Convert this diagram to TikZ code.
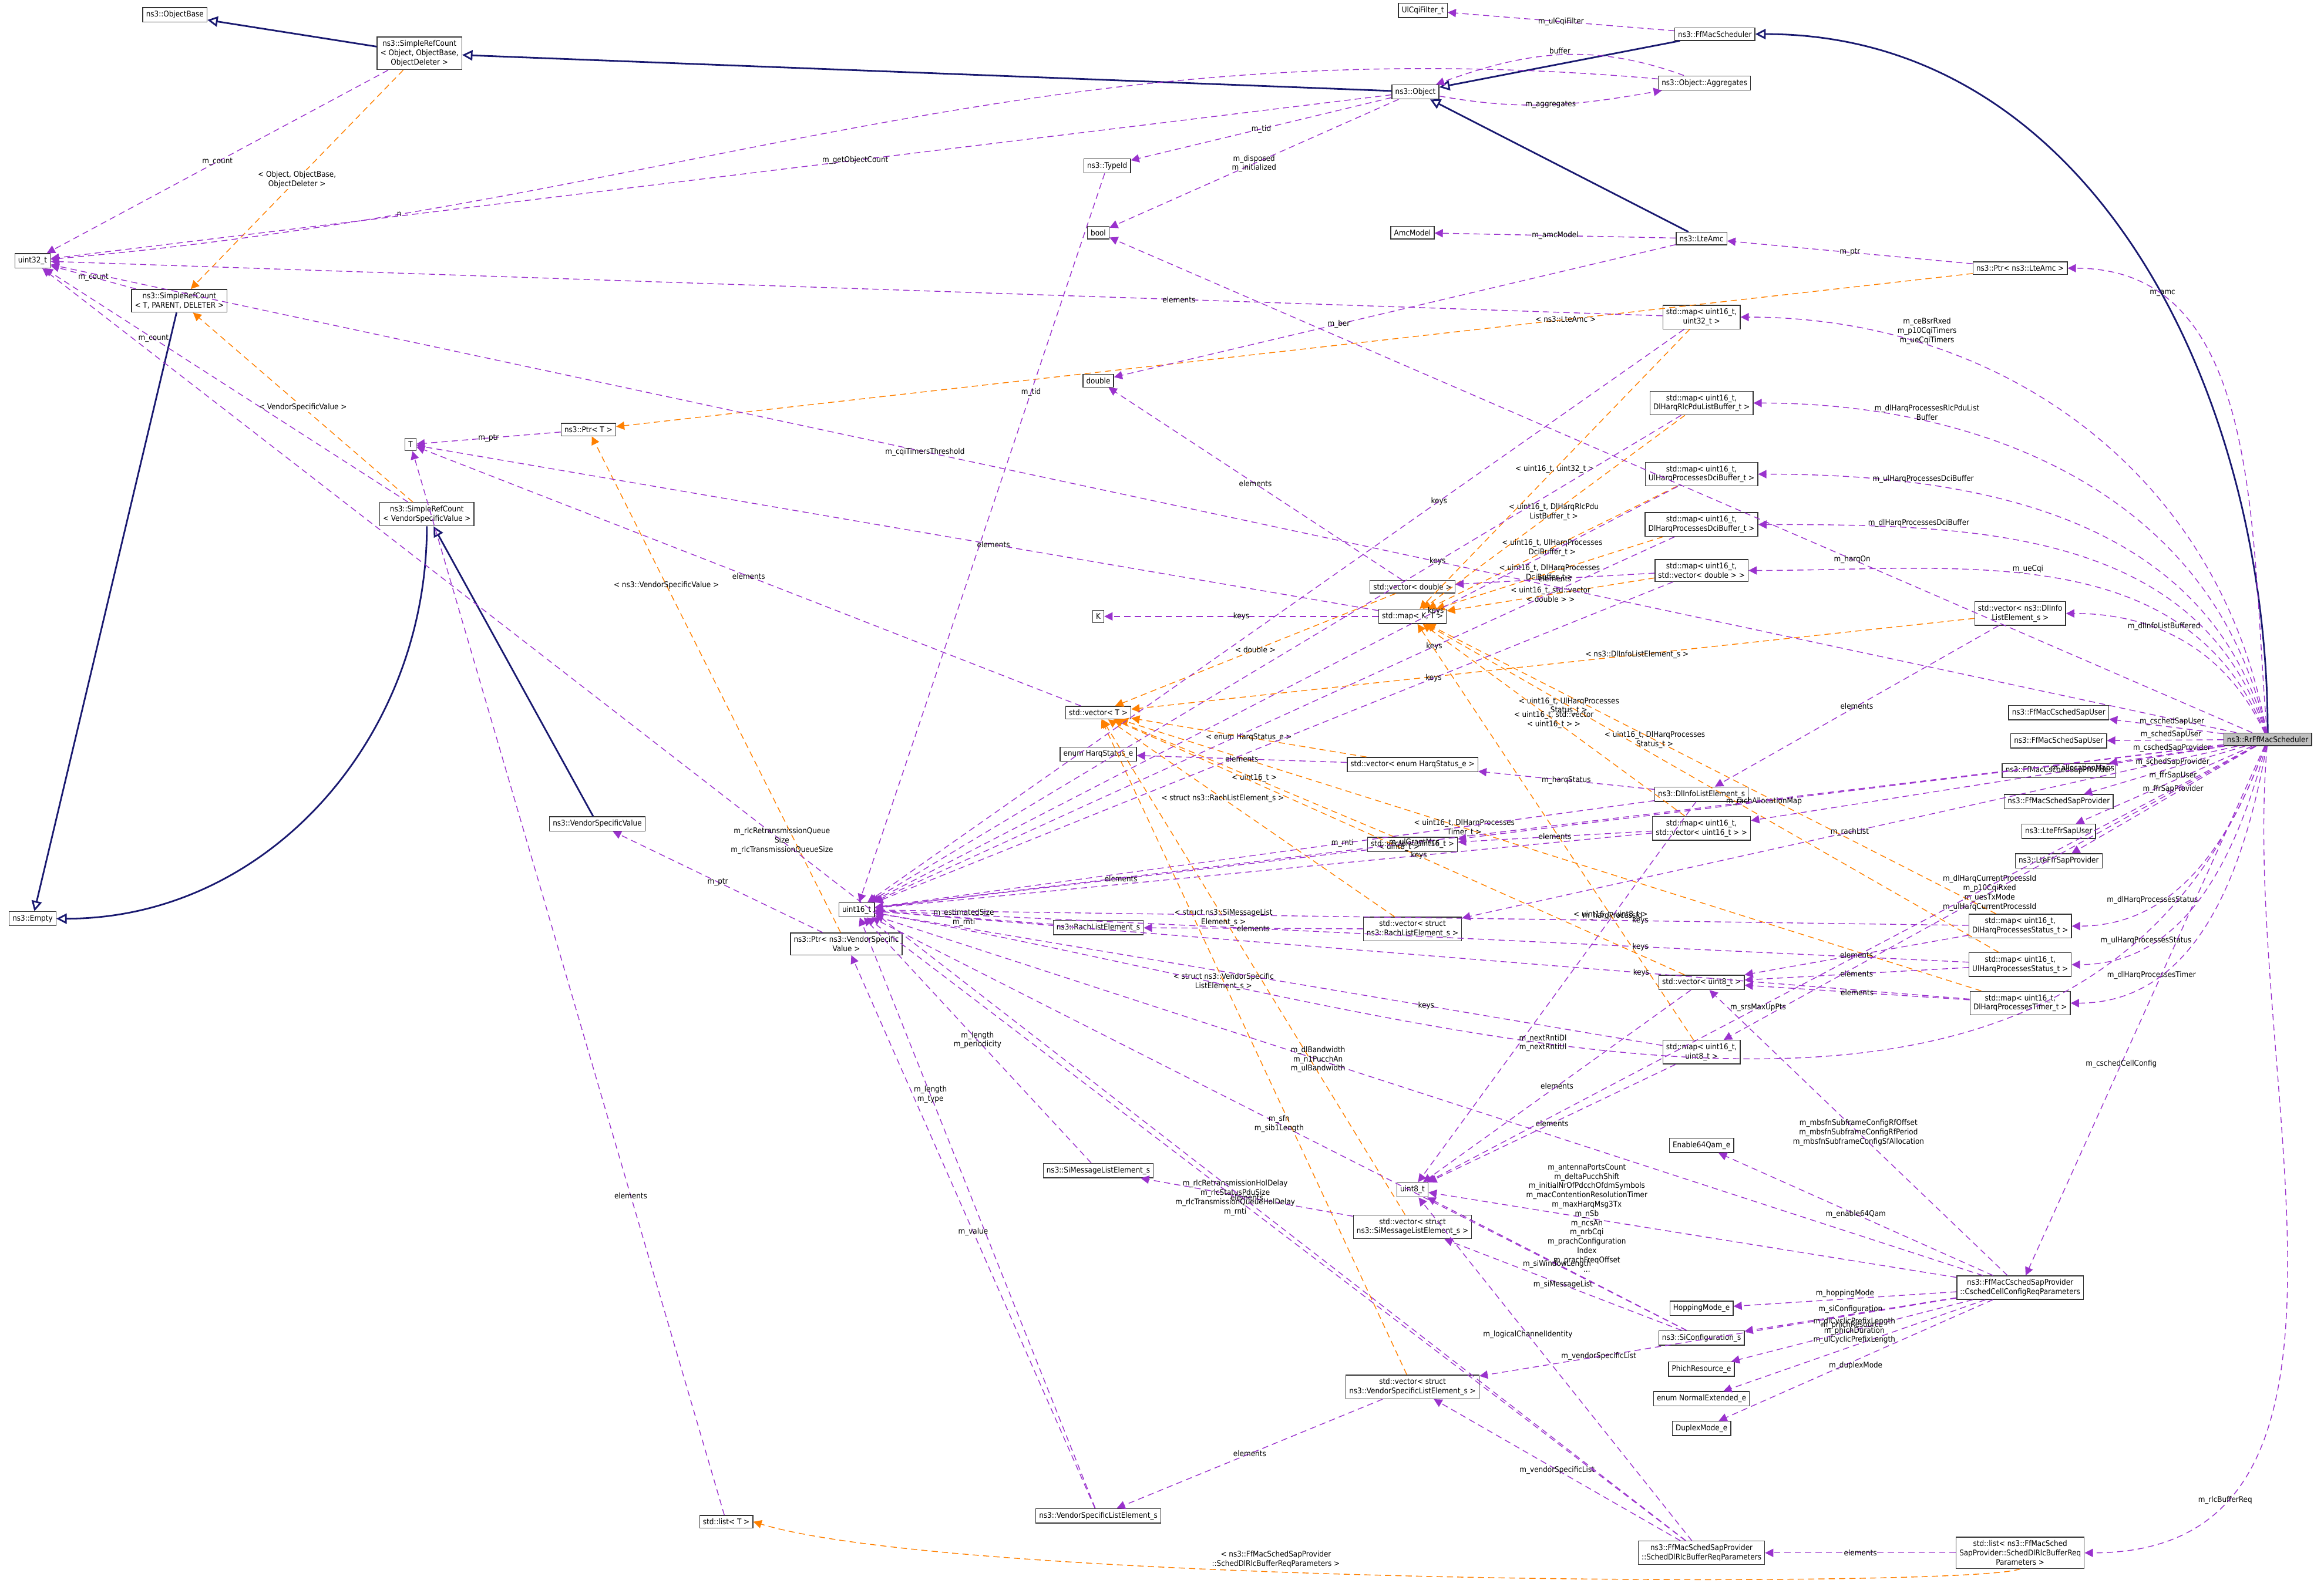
\documentclass[tikz,border=0pt]{standalone}
\usepackage{fontspec}
\setmainfont{DejaVu Sans Condensed}
\usetikzlibrary{arrows.meta}
\definecolor{doxpurple}{HTML}{9A32CD}
\definecolor{doxblue}{HTML}{191970}
\tikzset{
  cls/.style={draw=black!80,fill=white,inner sep=1.6pt,font=\fontsize{3.8}{4.5}\selectfont,align=center},
  lbl/.style={font=\fontsize{3.8}{4.5}\selectfont,align=center,inner sep=0.5pt,fill=none},
  inh/.style={draw=doxblue,thick,-{Triangle[open,length=5pt,width=5pt]}},
  use/.style={draw=doxpurple,densely dashed,-{Triangle[length=4pt,width=4pt]}},
  tpl/.style={draw=orange,densely dashed,-{Triangle[length=4pt,width=4pt]}},
}
\begin{document}
\begin{tikzpicture}[x=0.02524cm,y=-0.02524cm]
\useasboundingbox (0,0) rectangle (1568,1073);
% left column
\node[cls] (obase) at (118,10) {ns3::ObjectBase};
\node[cls] (srcObj) at (283,36) {ns3::SimpleRefCount\\ {\textless} Object, ObjectBase,\\ ObjectDeleter {\textgreater}};
\node[cls] (u32) at (22,176) {uint32\_t};
\node[cls] (srcTpd) at (121,203) {ns3::SimpleRefCount\\ {\textless} T, PARENT, DELETER {\textgreater}};
\node[cls] (tT) at (277,300) {T};
\node[cls] (ptrT) at (397,290) {ns3::Ptr{\textless} T {\textgreater}};
\node[cls] (srcVsv) at (288,347) {ns3::SimpleRefCount\\ {\textless} VendorSpecificValue {\textgreater}};
\node[cls] (empty) at (22,620) {ns3::Empty};
\node[cls] (vsv) at (403,556) {ns3::VendorSpecificValue};
\node[cls] (ptrVsv) at (571,637) {ns3::Ptr{\textless} ns3::VendorSpecific\\ Value {\textgreater}};
\node[cls] (u16) at (578,614) {uint16\_t};
\node[cls] (listT) at (490,1027) {std::list{\textless} T {\textgreater}};
% middle column
\node[cls] (ulcqi) at (960,7) {UlCqiFilter\_t};
\node[cls] (obj) at (955,62) {ns3::Object};
\node[cls] (typeid) at (747,112) {ns3::TypeId};
\node[cls] (bool) at (741,157) {bool};
\node[cls] (amcmodel) at (953,157) {AmcModel};
\node[cls] (dbl) at (741,257) {double};
\node[cls] (vecD) at (953,396) {std::vector{\textless} double {\textgreater}};
\node[cls] (kK) at (741,416) {K};
\node[cls] (mapKT) at (953,416) {std::map{\textless} K, T {\textgreater}};
\node[cls] (vecT) at (741,481) {std::vector{\textless} T {\textgreater}};
\node[cls] (harq) at (741,509) {enum HarqStatus\_e};
\node[cls] (vecHarq) at (953,516) {std::vector{\textless} enum HarqStatus\_e {\textgreater}};
\node[cls] (vecU16) at (953,570) {std::vector{\textless} uint16\_t {\textgreater}};
\node[cls] (rach) at (741,626) {ns3::RachListElement\_s};
\node[cls] (vecRach) at (953,627) {std::vector{\textless} struct\\ ns3::RachListElement\_s {\textgreater}};
\node[cls] (siMsg) at (741,790) {ns3::SiMessageListElement\_s};
\node[cls] (u8) at (953,803) {uint8\_t};
\node[cls] (vecSi) at (953,828) {std::vector{\textless} struct\\ ns3::SiMessageListElement\_s {\textgreater}};
\node[cls] (vecVs) at (953,936) {std::vector{\textless} struct\\ ns3::VendorSpecificListElement\_s {\textgreater}};
\node[cls] (vsle) at (741,1023) {ns3::VendorSpecificListElement\_s};
% right-middle column
\node[cls] (ffsched) at (1157,23) {ns3::FfMacScheduler};
\node[cls] (aggr) at (1150,56) {ns3::Object::Aggregates};
\node[cls] (amc) at (1148,161) {ns3::LteAmc};
\node[cls] (mapU32) at (1148,214) {std::map{\textless} uint16\_t,\\ uint32\_t {\textgreater}};
\node[cls] (mapRlc) at (1148,272) {std::map{\textless} uint16\_t,\\ DlHarqRlcPduListBuffer\_t {\textgreater}};
\node[cls] (mapUlDci) at (1148,320) {std::map{\textless} uint16\_t,\\ UlHarqProcessesDciBuffer\_t {\textgreater}};
\node[cls] (mapDlDci) at (1148,354) {std::map{\textless} uint16\_t,\\ DlHarqProcessesDciBuffer\_t {\textgreater}};
\node[cls] (mapVecD) at (1148,385) {std::map{\textless} uint16\_t,\\ std::vector{\textless} double {\textgreater} {\textgreater}};
\node[cls] (dlInfo) at (1148,536) {ns3::DlInfoListElement\_s};
\node[cls] (mapVecU16) at (1148,559) {std::map{\textless} uint16\_t,\\ std::vector{\textless} uint16\_t {\textgreater} {\textgreater}};
\node[cls] (vecU8) at (1148,663) {std::vector{\textless} uint8\_t {\textgreater}};
\node[cls] (mapU8) at (1148,710) {std::map{\textless} uint16\_t,\\ uint8\_t {\textgreater}};
\node[cls] (qam) at (1148,773) {Enable64Qam\_e};
\node[cls] (hopping) at (1148,883) {HoppingMode\_e};
\node[cls] (siConf) at (1148,903) {ns3::SiConfiguration\_s};
\node[cls] (phich) at (1148,924) {PhichResource\_e};
\node[cls] (normExt) at (1148,944) {enum NormalExtended\_e};
\node[cls] (duplex) at (1148,964) {DuplexMode\_e};
\node[cls] (rlcReq) at (1148,1048) {ns3::FfMacSchedSapProvider\\ ::SchedDlRlcBufferReqParameters};
% right column
\node[cls] (ptrAmc) at (1363,181) {ns3::Ptr{\textless} ns3::LteAmc {\textgreater}};
\node[cls] (vecDlInfo) at (1363,414) {std::vector{\textless} ns3::DlInfo\\ ListElement\_s {\textgreater}};
\node[cls] (cschedUser) at (1389,481) {ns3::FfMacCschedSapUser};
\node[cls] (schedUser) at (1389,500) {ns3::FfMacSchedSapUser};
\node[cls] (cschedProv) at (1389,520) {ns3::FfMacCschedSapProvider};
\node[cls] (schedProv) at (1389,541) {ns3::FfMacSchedSapProvider};
\node[cls] (ffrUser) at (1389,561) {ns3::LteFfrSapUser};
\node[cls] (ffrProv) at (1389,581) {ns3::LteFfrSapProvider};
\node[cls] (mapDlStat) at (1363,625) {std::map{\textless} uint16\_t,\\ DlHarqProcessesStatus\_t {\textgreater}};
\node[cls] (mapUlStat) at (1363,651) {std::map{\textless} uint16\_t,\\ UlHarqProcessesStatus\_t {\textgreater}};
\node[cls] (mapTimer) at (1363,677) {std::map{\textless} uint16\_t,\\ DlHarqProcessesTimer\_t {\textgreater}};
\node[cls] (cellCfg) at (1363,869) {ns3::FfMacCschedSapProvider\\ ::CschedCellConfigReqParameters};
\node[cls] (listRlc) at (1363,1048) {std::list{\textless} ns3::FfMacSched\\ SapProvider::SchedDlRlcBufferReq\\ Parameters {\textgreater}};
\node[cls,fill=black!25] (rr) at (1530,499) {ns3::RrFfMacScheduler};

% inheritance
\draw[inh] (srcObj) -- (obase);
\draw[inh] (obj) -- (srcObj);
\draw[inh] (ffsched) -- (obj);
\draw[inh] (rr) to[out=90,in=0] (ffsched);
\draw[inh] (amc) -- (obj);
\draw[inh] (srcTpd) -- (empty);
\draw[inh] (srcVsv) to[out=-90,in=0] (empty);
\draw[inh] (vsv) -- (srcVsv);

% template instances
\draw[tpl] (srcObj) -- node[lbl,fill=white]{{\textless} Object, ObjectBase,\\ ObjectDeleter {\textgreater}} (srcTpd);
\draw[tpl] (srcVsv) -- node[lbl,fill=white]{{\textless} VendorSpecificValue {\textgreater}} (srcTpd);
\draw[tpl] (ptrAmc) -- node[lbl,pos=0.3]{{\textless} ns3::LteAmc {\textgreater}} (ptrT);
\draw[tpl] (ptrVsv) -- node[lbl,pos=0.7]{{\textless} ns3::VendorSpecificValue {\textgreater}} (ptrT);
\draw[tpl] (mapU32) -- node[lbl]{{\textless} uint16\_t, uint32\_t {\textgreater}} (mapKT);
\draw[tpl] (mapRlc) -- node[lbl]{{\textless} uint16\_t, DlHarqRlcPdu\\ ListBuffer\_t {\textgreater}} (mapKT);
\draw[tpl] (mapUlDci) -- node[lbl]{{\textless} uint16\_t, UlHarqProcesses\\ DciBuffer\_t {\textgreater}} (mapKT);
\draw[tpl] (mapDlDci) -- node[lbl]{{\textless} uint16\_t, DlHarqProcesses\\ DciBuffer\_t {\textgreater}} (mapKT);
\draw[tpl] (mapVecD) -- node[lbl]{{\textless} uint16\_t, std::vector\\ {\textless} double {\textgreater} {\textgreater}} (mapKT);
\draw[tpl] (mapDlStat) -- node[lbl,pos=0.6]{{\textless} uint16\_t, DlHarqProcesses\\ Status\_t {\textgreater}} (mapKT);
\draw[tpl] (mapUlStat) -- node[lbl,pos=0.75]{{\textless} uint16\_t, UlHarqProcesses\\ Status\_t {\textgreater}} (mapKT);
\draw[tpl] (mapVecU16) -- node[lbl]{{\textless} uint16\_t, std::vector\\ {\textless} uint16\_t {\textgreater} {\textgreater}} (mapKT);
\draw[tpl] (mapU8) -- node[lbl,pos=0.3]{{\textless} uint16\_t, uint8\_t {\textgreater}} (mapKT);
\draw[tpl] (mapTimer) -- node[lbl,pos=0.6]{{\textless} uint16\_t, DlHarqProcesses\\ Timer\_t {\textgreater}} (vecT);
\draw[tpl] (vecD) -- node[lbl]{{\textless} double {\textgreater}} (vecT);
\draw[tpl] (vecHarq) -- node[lbl]{{\textless} enum HarqStatus\_e {\textgreater}} (vecT);
\draw[tpl] (vecU16) -- node[lbl]{{\textless} uint16\_t {\textgreater}} (vecT);
\draw[tpl] (vecRach) -- node[lbl,pos=0.6]{{\textless} struct ns3::RachListElement\_s {\textgreater}} (vecT);
\draw[tpl] (vecSi) -- node[lbl,pos=0.6]{{\textless} struct ns3::SiMessageList\\ Element\_s {\textgreater}} (vecT);
\draw[tpl] (vecU8) -- node[lbl]{{\textless} uint8\_t {\textgreater}} (vecT);
\draw[tpl] (vecVs) -- node[lbl,pos=0.6]{{\textless} struct ns3::VendorSpecific\\ ListElement\_s {\textgreater}} (vecT);
\draw[tpl] (vecDlInfo) -- node[lbl,pos=0.4]{{\textless} ns3::DlInfoListElement\_s {\textgreater}} (vecT);
\draw[tpl] (listRlc.south) .. controls (1330,1072) and (650,1070) .. node[lbl,pos=0.6,above=1pt]{{\textless} ns3::FfMacSchedSapProvider\\ ::SchedDlRlcBufferReqParameters {\textgreater}} (listT.east);

% members
\draw[use] (srcObj) -- node[lbl]{m\_count} (u32);
\draw[use] (srcTpd) -- node[lbl]{m\_count} (u32);
\draw[use] (srcVsv) -- node[lbl,pos=0.7]{m\_count} (u32);
\draw[use] (obj) -- node[lbl,pos=0.4]{m\_getObjectCount} (u32);
\draw[use] (aggr) to[out=175,in=5] node[lbl,pos=0.8]{n} (u32);
\draw[use] (aggr) to[out=160,in=20] node[lbl,above]{buffer} (obj);
\draw[use] (obj) to[out=-10,in=190] node[lbl]{m\_aggregates} (aggr);
\draw[use] (obj) -- node[lbl]{m\_tid} (typeid);
\draw[use] (obj) -- node[lbl]{m\_disposed\\ m\_initialized} (bool);
\draw[use] (typeid) -- node[lbl,pos=0.3]{m\_tid} (u16);
\draw[use] (ffsched) -- node[lbl]{m\_ulCqiFilter} (ulcqi);
\draw[use] (amc) -- node[lbl]{m\_amcModel} (amcmodel);
\draw[use] (amc) -- node[lbl,pos=0.6]{m\_ber} (dbl);
\draw[use] (ptrAmc) -- node[lbl]{m\_ptr} (amc);
\draw[use] (ptrT) -- node[lbl]{m\_ptr} (tT);
\draw[use] (ptrVsv) -- node[lbl]{m\_ptr} (vsv);
\draw[use] (vecT) -- node[lbl]{elements} (tT);
\draw[use] (mapKT) -- node[lbl]{keys} (kK);
\draw[use] (mapKT) -- node[lbl,pos=0.4]{elements} (tT);
\draw[use] (listT) -- node[lbl,pos=0.3]{elements} (tT);
\draw[use] (listRlc) -- node[lbl]{elements} (rlcReq);
\draw[use] (vecD) -- node[lbl]{elements} (dbl);
\draw[use] (vecHarq) -- node[lbl]{elements} (harq);
\draw[use] (vecU16) -- node[lbl]{elements} (u16);
\draw[use] (vecRach) -- node[lbl]{elements} (rach);
\draw[use] (vecSi) -- node[lbl]{elements} (siMsg);
\draw[use] (vecU8) -- node[lbl]{elements} (u8);
\draw[use] (vecVs) -- node[lbl]{elements} (vsle);
\draw[use] (vecDlInfo) -- node[lbl]{elements} (dlInfo);
\draw[use] (mapU32) -- node[lbl,pos=0.3]{keys} (u16);
\draw[use] (mapU32) -- node[lbl,pos=0.3]{elements} (u32);
\draw[use] (mapRlc) -- node[lbl,pos=0.3]{keys} (u16);
\draw[use] (mapUlDci) -- node[lbl,pos=0.3]{keys} (u16);
\draw[use] (mapDlDci) -- node[lbl,pos=0.3]{keys} (u16);
\draw[use] (mapVecD) -- node[lbl,pos=0.3]{keys} (u16);
\draw[use] (mapVecD) -- node[lbl]{elements} (vecD);
\draw[use] (mapVecU16) -- node[lbl,pos=0.3]{keys} (u16);
\draw[use] (mapVecU16) -- node[lbl]{elements} (vecU16);
\draw[use] (mapDlStat) -- node[lbl,pos=0.3]{keys} (u16);
\draw[use] (mapDlStat) -- node[lbl]{elements} (vecU8);
\draw[use] (mapUlStat) -- node[lbl,pos=0.3]{keys} (u16);
\draw[use] (mapUlStat) -- node[lbl]{elements} (vecU8);
\draw[use] (mapTimer) -- node[lbl,pos=0.3]{keys} (u16);
\draw[use] (mapTimer) -- node[lbl]{elements} (vecU8);
\draw[use] (mapU8) -- node[lbl,pos=0.3]{keys} (u16);
\draw[use] (mapU8) -- node[lbl]{elements} (u8);
\draw[use] (dlInfo) -- node[lbl]{m\_harqStatus} (vecHarq);
\draw[use] (dlInfo) -- node[lbl,pos=0.4]{m\_rnti} (u16);
\draw[use] (dlInfo) -- node[lbl,pos=0.3]{m\_harqProcessId} (u8);
\draw[use] (rach) -- node[lbl]{m\_estimatedSize\\ m\_rnti} (u16);
\draw[use] (siMsg) -- node[lbl]{m\_length\\ m\_periodicity} (u16);
\draw[use] (vsle) -- node[lbl]{m\_value} (ptrVsv);
\draw[use] (vsle) -- node[lbl,pos=0.7]{m\_length\\ m\_type} (u16);
\draw[use] (siConf) -- node[lbl]{m\_siMessageList} (vecSi);
\draw[use] (siConf) -- node[lbl]{m\_sfn\\ m\_sib1Length} (u16);
\draw[use] (siConf) -- node[lbl]{m\_siWindowLength} (u8);
\draw[use] (cellCfg) -- node[lbl]{m\_enable64Qam} (qam);
\draw[use] (cellCfg) -- node[lbl,above]{m\_hoppingMode} (hopping);
\draw[use] (cellCfg) -- node[lbl,above]{m\_siConfiguration} (siConf);
\draw[use] (cellCfg) -- node[lbl,above]{m\_phichResource} (phich);
\draw[use] (cellCfg) -- node[lbl,above]{m\_dlCyclicPrefixLength\\ m\_phichDuration\\ m\_ulCyclicPrefixLength} (normExt);
\draw[use] (cellCfg) -- node[lbl,below]{m\_duplexMode} (duplex);
\draw[use] (cellCfg) -- node[lbl,pos=0.75]{m\_vendorSpecificList} (vecVs);
\draw[use] (cellCfg) -- node[lbl,pos=0.7]{m\_antennaPortsCount\\ m\_deltaPucchShift\\ m\_initialNrOfPdcchOfdmSymbols\\ m\_macContentionResolutionTimer\\ m\_maxHarqMsg3Tx\\ m\_nSb\\ m\_ncsAn\\ m\_nrbCqi\\ m\_prachConfiguration\\ Index\\ m\_prachFreqOffset\\ ...} (u8);
\draw[use] (cellCfg) -- node[lbl,pos=0.6]{m\_dlBandwidth\\ m\_n1PucchAn\\ m\_ulBandwidth} (u16);
\draw[use] (cellCfg) -- node[lbl]{m\_mbsfnSubframeConfigRfOffset\\ m\_mbsfnSubframeConfigRfPeriod\\ m\_mbsfnSubframeConfigSfAllocation} (vecU8);
\draw[use] (rlcReq) -- node[lbl]{m\_vendorSpecificList} (vecVs);
\draw[use] (rlcReq) -- node[lbl,pos=0.6]{m\_logicalChannelIdentity} (u8);
\draw[use] (rlcReq) -- node[lbl,pos=0.55]{m\_rlcRetransmissionHolDelay\\ m\_rlcStatusPduSize\\ m\_rlcTransmissionQueueHolDelay\\ m\_rnti} (u16);
\draw[use] (rlcReq) -- node[lbl,pos=0.55]{m\_rlcRetransmissionQueue\\ Size\\ m\_rlcTransmissionQueueSize} (u32);

% scheduler members
\draw[use] (rr) -- node[lbl,pos=0.6]{m\_cqiTimersThreshold} (u32);
\draw[use] (rr) -- node[lbl,pos=0.35]{m\_harqOn} (bool);
\draw[use] (rr) to[out=95,in=0] node[lbl,pos=0.8,above]{m\_amc} (ptrAmc);
\draw[use] (rr) to[out=100,in=0] node[lbl,pos=0.75,above]{m\_ceBsrRxed\\ m\_p10CqiTimers\\ m\_ueCqiTimers} (mapU32);
\draw[use] (rr) to[out=102,in=0] node[lbl,pos=0.75,above]{m\_dlHarqProcessesRlcPduList\\ Buffer} (mapRlc);
\draw[use] (rr) to[out=105,in=0] node[lbl,pos=0.75,above]{m\_ulHarqProcessesDciBuffer} (mapUlDci);
\draw[use] (rr) to[out=108,in=0] node[lbl,pos=0.75,above]{m\_dlHarqProcessesDciBuffer} (mapDlDci);
\draw[use] (rr) to[out=112,in=0] node[lbl,pos=0.55,above]{m\_ueCqi} (mapVecD);
\draw[use] (rr) to[out=115,in=0] node[lbl,pos=0.6,above]{m\_dlInfoListBuffered} (vecDlInfo);
\draw[use] (rr) -- node[lbl,pos=0.3]{m\_allocationMaps} (mapVecU16);
\draw[use] (rr) -- node[lbl,pos=0.45,above]{m\_cschedSapUser} (cschedUser);
\draw[use] (rr) -- node[lbl,pos=0.45,above]{m\_schedSapUser} (schedUser);
\draw[use] (rr) -- node[lbl,pos=0.45,above]{m\_cschedSapProvider} (cschedProv);
\draw[use] (rr) -- node[lbl,pos=0.45,above]{m\_schedSapProvider} (schedProv);
\draw[use] (rr) -- node[lbl,pos=0.45,above]{m\_ffrSapUser} (ffrUser);
\draw[use] (rr) -- node[lbl,pos=0.45,above]{m\_ffrSapProvider} (ffrProv);
\draw[use] (rr) -- node[lbl,pos=0.6]{m\_rachAllocationMap} (vecU16);
\draw[use] (rr) -- node[lbl,pos=0.5]{m\_rachList} (vecRach);
\draw[use] (rr) to[out=-110,in=0] node[lbl,pos=0.7,above]{m\_dlHarqProcessesStatus} (mapDlStat);
\draw[use] (rr) to[out=-105,in=0] node[lbl,pos=0.75,above]{m\_ulHarqProcessesStatus} (mapUlStat);
\draw[use] (rr) to[out=-100,in=0] node[lbl,pos=0.75,above]{m\_dlHarqProcessesTimer} (mapTimer);
\draw[use] (rr) -- node[lbl,pos=0.5]{m\_dlHarqCurrentProcessId\\ m\_p10CqiRxed\\ m\_uesTxMode\\ m\_ulHarqCurrentProcessId} (mapU8);
\draw[use] (rr) -- node[lbl,pos=0.6]{m\_srsMaxUpPts} (u8);
\draw[use] (rr) -- node[lbl,pos=0.6]{m\_cschedCellConfig} (cellCfg);
\draw[use] (rr) -- node[lbl,pos=0.6]{m\_ulGrantMcs} (u16);
\draw[use] (rr) to[out=-110,in=-10] node[lbl,pos=0.6]{m\_nextRntiDl\\ m\_nextRntiUl} (u16);
\draw[use] (rr) to[out=-95,in=0] node[lbl,pos=0.8]{m\_rlcBufferReq} (listRlc);
\end{tikzpicture}
\end{document}
